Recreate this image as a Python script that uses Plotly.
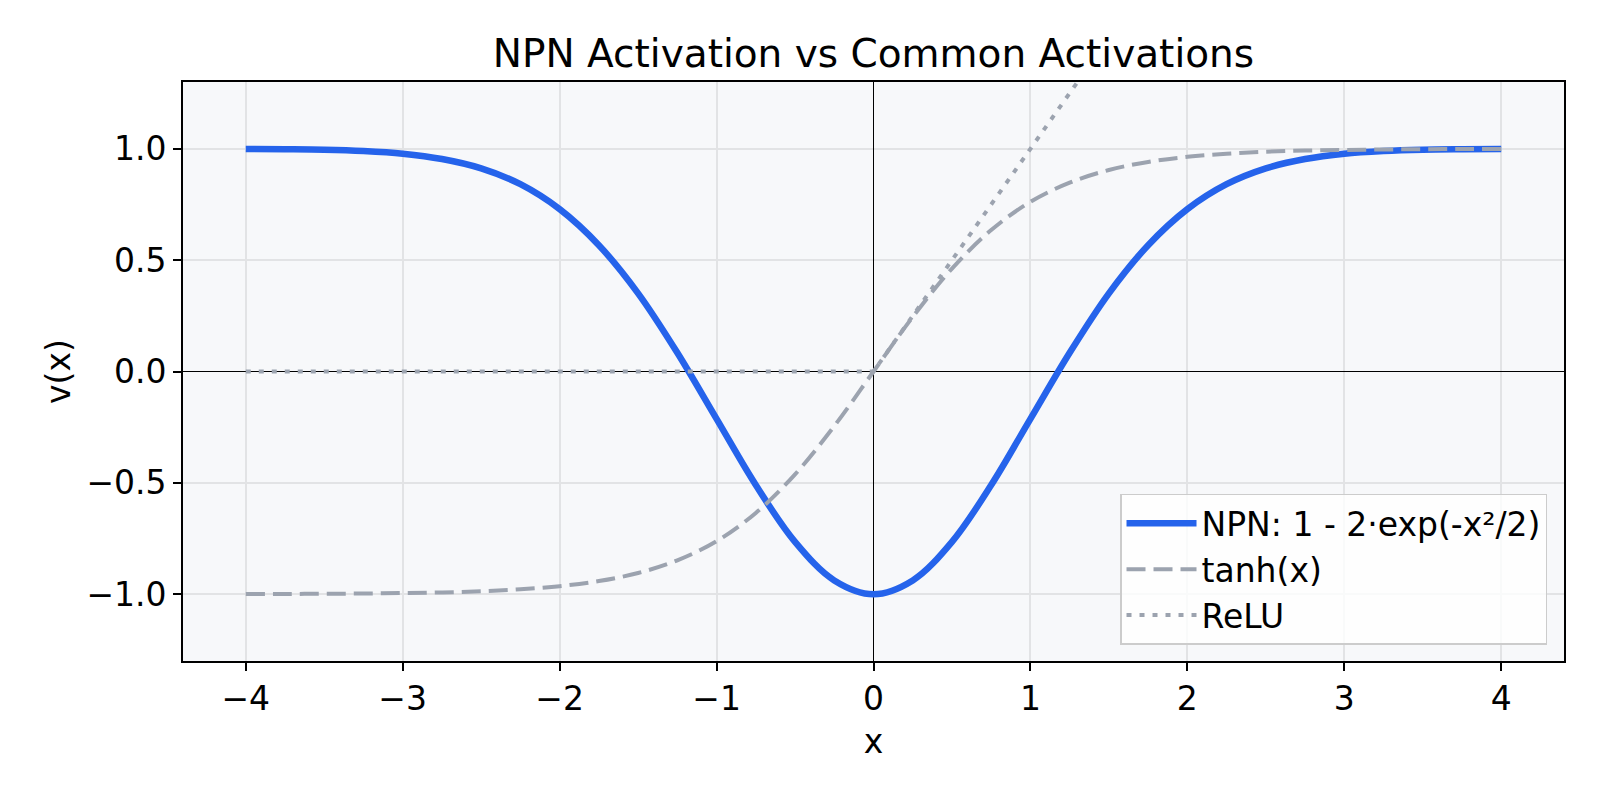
import plotly.graph_objects as go

# x sample positions
x_vals = [-4.0, -3.75, -3.5, -3.25, -3.0, -2.75, -2.5, -2.25, -2.0, -1.75, -1.5, -1.25, -1.0,
          -0.75, -0.5, -0.25, 0.0, 0.25, 0.5, 0.75, 1.0, 1.25, 1.5, 1.75, 2.0, 2.25, 2.5,
          2.75, 3.0, 3.25, 3.5, 3.75, 4.0]

npn_vals = [0.999, 0.998, 0.996, 0.990, 0.978, 0.954, 0.912, 0.841, 0.729, 0.567, 0.351, 0.084,
            -0.213, -0.510, -0.765, -0.938, -1.0, -0.938, -0.765, -0.510, -0.213, 0.084, 0.351,
            0.567, 0.729, 0.841, 0.912, 0.954, 0.978, 0.990, 0.996, 0.998, 0.999]

tanh_vals = [-0.999, -0.999, -0.998, -0.997, -0.995, -0.992, -0.987, -0.978, -0.964, -0.941,
             -0.905, -0.848, -0.762, -0.635, -0.462, -0.245, 0.0, 0.245, 0.462, 0.635, 0.762,
             0.848, 0.905, 0.941, 0.964, 0.978, 0.987, 0.992, 0.995, 0.997, 0.998, 0.999, 0.999]

relu_x = [-4.0, 0.0, 4.0]
relu_vals = [0.0, 0.0, 4.0]

x_ticks = [-4, -3, -2, -1, 0, 1, 2, 3, 4]
x_tick_text = ["\u22124", "\u22123", "\u22122", "\u22121", "0", "1", "2", "3", "4"]
y_ticks = [-1.0, -0.5, 0.0, 0.5, 1.0]
y_tick_text = ["\u22121.0", "\u22120.5", "0.0", "0.5", "1.0"]

FONT = "DejaVu Sans"

fig = go.Figure()
fig.add_trace(go.Scatter(x=x_vals, y=npn_vals, mode="lines", name="NPN: 1 - 2\u00b7exp(-x\u00b2/2)",
                         line=dict(color="#2563eb", width=6.5, shape="spline")))
fig.add_trace(go.Scatter(x=x_vals, y=tanh_vals, mode="lines", name="tanh(x)",
                         line=dict(color="#9ca3af", width=4, dash="19px,8px", shape="spline")))
fig.add_trace(go.Scatter(x=relu_x, y=relu_vals, mode="lines", name="ReLU",
                         line=dict(color="#9ca3af", width=4, dash="5px,8px")))

axis_common = dict(showline=True, linecolor="black", linewidth=1.6, mirror=True,
                   ticks="outside", ticklen=8, tickwidth=1.6, tickcolor="black",
                   showgrid=True, gridcolor="#e2e3e5", gridwidth=1.5,
                   zeroline=True, zerolinecolor="black", zerolinewidth=1.4,
                   tickfont=dict(family=FONT, size=33, color="black"))

fig.update_layout(
    width=1600, height=800,
    paper_bgcolor="white", plot_bgcolor="#f7f8fa",
    margin=dict(l=183, r=36, t=82, b=139),
    font=dict(family=FONT, color="black"),
    title=dict(text="NPN Activation vs Common Activations", x=(183 + 1564) / 2 / 1600, xanchor="center",
               y=1 - 53 / 800, yanchor="middle", font=dict(family=FONT, size=39, color="black")),
    xaxis=dict(range=[-4.4, 4.4], tickvals=x_ticks, ticktext=x_tick_text,
               title=dict(text="x", font=dict(family=FONT, size=33), standoff=12), **axis_common),
    yaxis=dict(range=[-1.3, 1.3], tickvals=y_ticks, ticktext=y_tick_text,
               title=dict(text="v(x)", font=dict(family=FONT, size=33), standoff=6), **axis_common),
    legend=dict(x=0.9877, xanchor="right", y=0.028, yanchor="bottom",
                bgcolor="rgba(255,255,255,0.8)", bordercolor="#cccccc", borderwidth=1.5,
                font=dict(family=FONT, size=33, color="black"), itemwidth=70,
                tracegroupgap=0),
    showlegend=True,
)

fig.write_html("out.html")
